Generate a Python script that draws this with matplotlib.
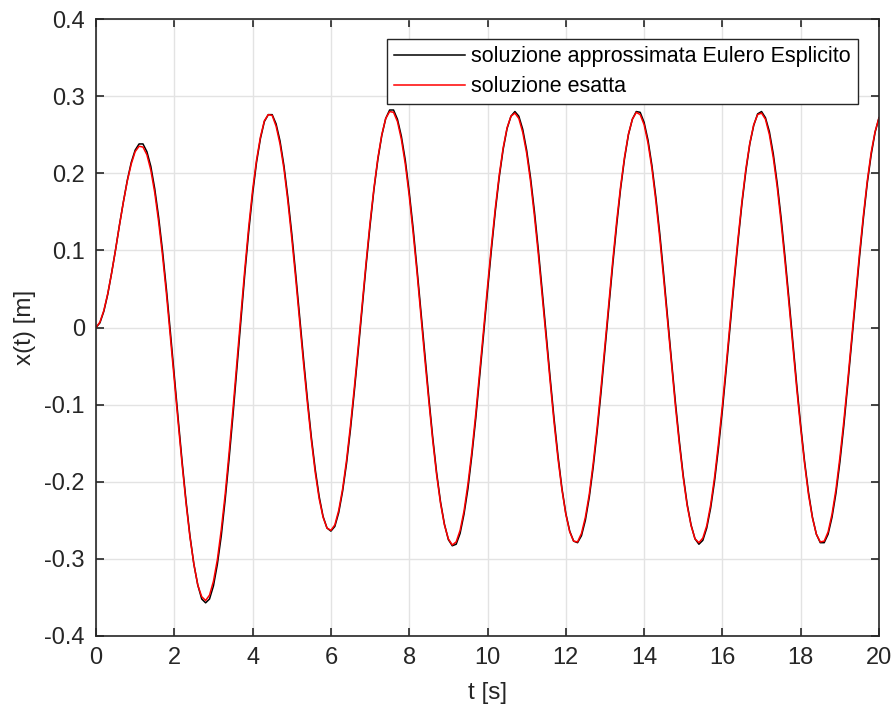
import numpy as np
import matplotlib
matplotlib.use("Agg")
import matplotlib.pyplot as plt

# sampling grid of the simulation, 0..20 s every 0.1 s
t = np.linspace(0, 20, 201)

# x(t) [m], exact solution (red)
x_exact = [
    0.000, 0.007, 0.022, 0.044, 0.071, 0.101, 0.133, 0.163, 0.190, 0.212,
    0.228, 0.235, 0.234, 0.224, 0.204, 0.175, 0.137, 0.093, 0.043, -0.012,
    -0.068, -0.124, -0.178, -0.228, -0.272, -0.307, -0.334, -0.349, -0.354, -0.347,
    -0.329, -0.301, -0.262, -0.216, -0.162, -0.105, -0.044, 0.016, 0.075, 0.130,
    0.178, 0.217, 0.247, 0.268, 0.276, 0.275, 0.261, 0.238, 0.206, 0.164,
    0.116, 0.064, 0.009, -0.046, -0.098, -0.146, -0.188, -0.222, -0.246, -0.260,
    -0.263, -0.256, -0.237, -0.209, -0.172, -0.127, -0.077, -0.024, 0.031, 0.085,
    0.136, 0.181, 0.220, 0.250, 0.271, 0.280, 0.279, 0.267, 0.244, 0.212,
    0.171, 0.123, 0.071, 0.015, -0.041, -0.095, -0.146, -0.191, -0.228, -0.256,
    -0.274, -0.282, -0.278, -0.263, -0.238, -0.203, -0.161, -0.112, -0.058, -0.003,
    0.053, 0.106, 0.155, 0.198, 0.233, 0.259, 0.274, 0.278, 0.271, 0.253,
    0.226, 0.189, 0.144, 0.094, 0.040, -0.015, -0.070, -0.123, -0.170, -0.210,
    -0.242, -0.265, -0.277, -0.278, -0.267, -0.246, -0.216, -0.176, -0.130, -0.078,
    -0.023, 0.032, 0.087, 0.138, 0.183, 0.221, 0.251, 0.270, 0.279, 0.276,
    0.263, 0.239, 0.206, 0.164, 0.116, 0.063, 0.008, -0.048, -0.102, -0.151,
    -0.195, -0.231, -0.257, -0.274, -0.279, -0.273, -0.257, -0.230, -0.194, -0.150,
    -0.101, -0.047, 0.009, 0.064, 0.116, 0.164, 0.206, 0.239, 0.263, 0.276,
    0.278, 0.270, 0.250, 0.220, 0.182, 0.136, 0.085, 0.031, -0.025, -0.080,
    -0.131, -0.177, -0.217, -0.247, -0.268, -0.278, -0.277, -0.265, -0.242, -0.210,
    -0.169, -0.122, -0.070, -0.015, 0.041, 0.095, 0.145, 0.190, 0.227, 0.254,
    0.272,
]

# x(t) [m], explicit Euler approximation (black)
x_euler = [
    0.000, 0.006, 0.021, 0.043, 0.071, 0.101, 0.133, 0.163, 0.191, 0.214,
    0.230, 0.238, 0.238, 0.228, 0.209, 0.180, 0.143, 0.099, 0.049, -0.006,
    -0.063, -0.119, -0.174, -0.225, -0.270, -0.307, -0.334, -0.352, -0.357, -0.352,
    -0.335, -0.307, -0.270, -0.223, -0.170, -0.113, -0.052, 0.009, 0.069, 0.124,
    0.173, 0.214, 0.245, 0.267, 0.276, 0.276, 0.264, 0.242, 0.210, 0.169,
    0.122, 0.070, 0.015, -0.040, -0.093, -0.142, -0.184, -0.219, -0.245, -0.260,
    -0.264, -0.258, -0.240, -0.212, -0.176, -0.132, -0.082, -0.029, 0.026, 0.081,
    0.132, 0.179, 0.218, 0.249, 0.271, 0.282, 0.282, 0.270, 0.248, 0.217,
    0.176, 0.129, 0.076, 0.021, -0.035, -0.090, -0.142, -0.188, -0.226, -0.255,
    -0.275, -0.283, -0.281, -0.267, -0.242, -0.209, -0.166, -0.118, -0.064, -0.009,
    0.047, 0.101, 0.151, 0.195, 0.231, 0.258, 0.274, 0.280, 0.274, 0.257,
    0.230, 0.194, 0.150, 0.100, 0.046, -0.010, -0.065, -0.118, -0.166, -0.208,
    -0.241, -0.264, -0.277, -0.279, -0.270, -0.250, -0.220, -0.181, -0.135, -0.084,
    -0.029, 0.027, 0.082, 0.133, 0.180, 0.219, 0.250, 0.270, 0.280, 0.279,
    0.266, 0.243, 0.210, 0.169, 0.122, 0.069, 0.013, -0.043, -0.097, -0.147,
    -0.192, -0.229, -0.256, -0.274, -0.281, -0.276, -0.260, -0.234, -0.199, -0.156,
    -0.107, -0.053, 0.003, 0.059, 0.112, 0.161, 0.203, 0.238, 0.262, 0.277,
    0.280, 0.272, 0.254, 0.225, 0.187, 0.142, 0.091, 0.037, -0.019, -0.075,
    -0.127, -0.174, -0.214, -0.246, -0.268, -0.279, -0.279, -0.268, -0.246, -0.215,
    -0.175, -0.128, -0.075, -0.020, 0.036, 0.090, 0.141, 0.187, 0.224, 0.253,
    0.272,
]

x_ticks = [0, 2, 4, 6, 8, 10, 12, 14, 16, 18, 20]
y_ticks = [-0.4, -0.3, -0.2, -0.1, 0, 0.1, 0.2, 0.3, 0.4]
y_tick_labels = ["-0.4", "-0.3", "-0.2", "-0.1", "0", "0.1", "0.2", "0.3", "0.4"]

INK = "#262626"
GRID = "#e3e3e3"

plt.rcParams["font.family"] = ["Liberation Sans", "DejaVu Sans"]

fig = plt.figure(figsize=(8.93, 7.13), dpi=100)
ax = fig.add_axes([96 / 893, 1 - 636 / 713, 783 / 893, 617 / 713])

ax.plot(t, x_euler, color="black", lw=1.1,
        label="soluzione approssimata Eulero Esplicito")
ax.plot(t, x_exact, color="red", lw=1.1, label="soluzione esatta")

ax.set_xlim(0, 20)
ax.set_ylim(-0.4, 0.4)
ax.set_xticks(x_ticks)
ax.set_yticks(y_ticks)
ax.set_yticklabels(y_tick_labels)
ax.grid(True, color=GRID, lw=1.0)
ax.set_axisbelow(True)
for s in ax.spines.values():
    s.set_color(INK)
    s.set_linewidth(1.2)
ax.tick_params(direction="in", top=True, right=True, length=6, width=1.2,
               color=INK, labelcolor=INK, labelsize=17, pad=8)
ax.set_xlabel("t [s]", fontsize=17.5, color=INK, labelpad=9)
ax.set_ylabel("x(t) [m]", fontsize=17.5, color=INK, labelpad=6)

leg = ax.legend(loc="upper right", bbox_to_anchor=(858 / 893, 1 - 39 / 713),
                bbox_transform=fig.transFigure, borderaxespad=0, fontsize=15.5,
                fancybox=False, framealpha=1, edgecolor=INK, handlelength=3.3,
                handletextpad=0.3, labelspacing=0.42, borderpad=0.33)
leg.get_frame().set_linewidth(1.0)

fig.savefig("out.png", dpi=100)
